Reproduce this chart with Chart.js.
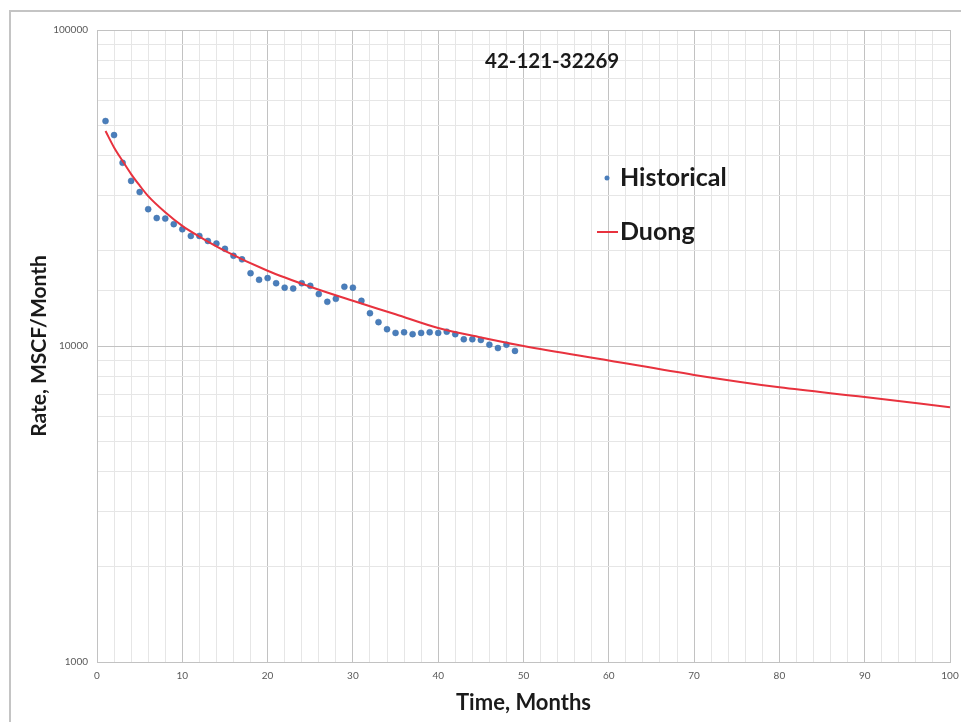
<!DOCTYPE html>
<html>
<head>
<meta charset="utf-8">
<title>42-121-32269</title>
<script src="https://cdn.jsdelivr.net/npm/chart.js@4.4.1/dist/chart.umd.min.js"></script>
<style>
  html, body { margin: 0; padding: 0; background: #fff; }
  #wrap { position: relative; width: 961px; height: 722px; overflow: hidden; }
  #frame {
    position: absolute; left: 9px; top: 10px; width: 1000px; height: 800px;
    border-left: 2px solid #c4c4c4; border-top: 2px solid #c4c4c4;
  }
  canvas { position: absolute; left: 0; top: 0; }
</style>
</head>
<body>
<div id="wrap">
  <div id="frame"></div>
  <canvas id="chart" width="961" height="722"></canvas>
</div>
<script>
// well id + axis text
const chartTitle = "42-121-32269";
const xTitle = "Time, Months";
const yTitle = "Rate, MSCF/Month";

// historical monthly rates, months 1..49
const histMonths = [];
for (let m = 1; m <= 49; m++) histMonths.push(m);
const histRates = [
  51500, 46500, 38000, 33300, 30700, 27100, 25400, 25300, 24300, 23400,
  22300, 22300, 21500, 21100, 20300, 19300, 18800, 17000, 16200, 16400,
  15800, 15300, 15200, 15800, 15500, 14600, 13800, 14100, 15400, 15300,
  13900, 12700, 11900, 11300, 11000, 11050, 10900, 11000, 11050, 11000,
  11100, 10900, 10500, 10500, 10450, 10100, 9850, 10100, 9650
];

// Duong fit
const duongMonths = [1, 2, 3, 4, 5, 6, 8, 10, 12, 15, 20, 25, 30, 35, 40, 45, 50, 60, 70, 80, 90, 100];
const duongRates = [
  47900, 42500, 38500, 35000, 32200, 29800, 26500, 24000, 22200, 20000,
  17300, 15400, 13900, 12600, 11400, 10650, 10000, 9000, 8100, 7400, 6900, 6400
];

// axis ranges
const xMin = 0, xMax = 100, xStep = 2, xLabelEvery = 10;
const yMin = 1000, yMax = 100000;

const histPoints = histMonths.map((m, i) => ({ x: m, y: histRates[i] }));
const duongPoints = duongMonths.map((m, i) => ({ x: m, y: duongRates[i] }));

const fontFamily = "Lato, 'Open Sans', sans-serif";
const majorGrid = "#c2c2c2";
const minorGrid = "#e6e6e6";

function isDecade(v) {
  const l = Math.log10(v);
  return Math.abs(l - Math.round(l)) < 1e-9;
}

/**************************************
 *   TITLE + LEGEND INSIDE PLOT
 **************************************/
const overlayText = {
  id: "overlayText",
  afterDatasetsDraw(chart) {
    const ctx = chart.ctx;
    const hist = chart.data.datasets[0];
    const duong = chart.data.datasets[1];
    ctx.save();
    ctx.fillStyle = "#1a1a1a";
    ctx.textBaseline = "middle";
    ctx.textAlign = "left";

    ctx.font = "bold 20.5px " + fontFamily;
    ctx.fillText(chartTitle, 485, 61);

    ctx.font = "bold 25px " + fontFamily;
    ctx.fillText(hist.label, 620, 178);
    ctx.fillText(duong.label, 620, 232);

    ctx.beginPath();
    ctx.arc(607, 178, 2.5, 0, Math.PI * 2);
    ctx.fillStyle = hist.backgroundColor;
    ctx.fill();

    ctx.beginPath();
    ctx.moveTo(597, 232);
    ctx.lineTo(618, 232);
    ctx.strokeStyle = duong.borderColor;
    ctx.lineWidth = 2;
    ctx.stroke();
    ctx.restore();
  }
};

new Chart(document.getElementById("chart"), {
  type: "scatter",
  data: {
    datasets: [
      {
        label: "Historical",
        data: histPoints,
        backgroundColor: "#4a7ebb",
        borderColor: "#3d6ea8",
        borderWidth: 0.5,
        pointRadius: 3,
        pointStyle: "circle",
        order: 1
      },
      {
        label: "Duong",
        type: "line",
        data: duongPoints,
        borderColor: "#e8323e",
        backgroundColor: "#e8323e",
        borderWidth: 2,
        pointRadius: 0,
        fill: false,
        cubicInterpolationMode: "monotone",
        order: 0
      }
    ]
  },
  options: {
    responsive: false,
    animation: false,
    layout: { padding: { left: 0, top: 30, right: 11, bottom: 0 } },
    plugins: {
      legend: { display: false },
      tooltip: { enabled: false }
    },
    scales: {
      x: {
        type: "linear",
        min: xMin,
        max: xMax,
        afterFit(scale) {
          scale.height = 60;
          scale.paddingLeft = 0;
          scale.paddingRight = 0;
        },
        ticks: {
          stepSize: xStep,
          autoSkip: false,
          maxRotation: 0,
          padding: 8,
          color: "#595959",
          font: { family: fontFamily, size: 10 },
          callback: (v) => (v % xLabelEvery === 0 ? String(v) : "")
        },
        grid: {
          drawTicks: false,
          color: (c) => (c.tick && c.tick.value % xLabelEvery === 0 ? majorGrid : minorGrid),
          lineWidth: 1
        },
        border: { color: majorGrid },
        title: {
          display: true,
          text: xTitle,
          color: "#1a1a1a",
          font: { family: fontFamily, size: 22, weight: "bold" },
          padding: { top: 0, bottom: 6 }
        }
      },
      y: {
        type: "logarithmic",
        min: yMin,
        max: yMax,
        afterFit(scale) {
          scale.width = 97;
          scale.paddingTop = 0;
          scale.paddingBottom = 0;
        },
        ticks: {
          autoSkip: false,
          padding: 9,
          color: "#595959",
          font: { family: fontFamily, size: 10 },
          callback: (v) => (isDecade(v) ? String(v) : "")
        },
        grid: {
          drawTicks: false,
          color: (c) => (c.tick && isDecade(c.tick.value) ? majorGrid : minorGrid),
          lineWidth: 1
        },
        border: { color: majorGrid },
        title: {
          display: true,
          text: yTitle,
          color: "#1a1a1a",
          font: { family: fontFamily, size: 21, weight: "bold" },
          padding: { top: 27, bottom: 0 }
        }
      }
    }
  },
  plugins: [overlayText]
});
</script>
</body>
</html>
